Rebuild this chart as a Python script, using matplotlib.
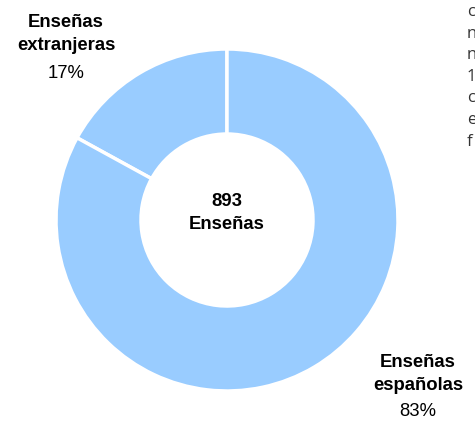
import matplotlib
matplotlib.use('Agg')
import matplotlib.pyplot as plt

# data
categories = ['Enseñas\nextranjeras', 'Enseñas\nespañolas']
values = [152, 741]
percents = ['17%', '83%']
total_label = '893\nEnseñas'
side_text = ['c', 'n', 'n', '1', 'c', 'e', 'f']

color = '#99CCFF'

fig = plt.figure(figsize=(4.75, 4.24), dpi=100)
ax = fig.add_axes([0, 0, 1, 1])

ax.pie(values, colors=[color, color], startangle=90, counterclock=True,
       center=(227, 204), radius=171,
       wedgeprops=dict(width=85, edgecolor='white', linewidth=2.5))

# pie resets the limits, so set them afterwards
ax.set_xlim(0, 475)
ax.set_ylim(0, 424)
ax.set_aspect('equal')
ax.axis('off')

font = 'Liberation Sans'
fs = 13.3
# center label
ax.text(227, 211, total_label, ha='center', va='center', fontsize=fs,
        fontweight='bold', family=font, linespacing=1.45)

# slice labels
ax.text(66, 390, categories[0], ha='center', va='center', fontsize=fs,
        fontweight='bold', family=font, linespacing=1.45)
ax.text(66, 351, percents[0], ha='center', va='center', fontsize=fs, family=font)
ax.text(418, 50, categories[1], ha='center', va='center', fontsize=fs,
        fontweight='bold', family=font, linespacing=1.45)
ax.text(418, 12, percents[1], ha='center', va='center', fontsize=fs, family=font)

# clipped text on the right edge
for i, s in enumerate(side_text):
    ax.text(467, 412 - i * 21.6, s, ha='left', va='center', fontsize=12,
            family='Open Sans', color='#333333')

fig.savefig('out.png', dpi=100)
